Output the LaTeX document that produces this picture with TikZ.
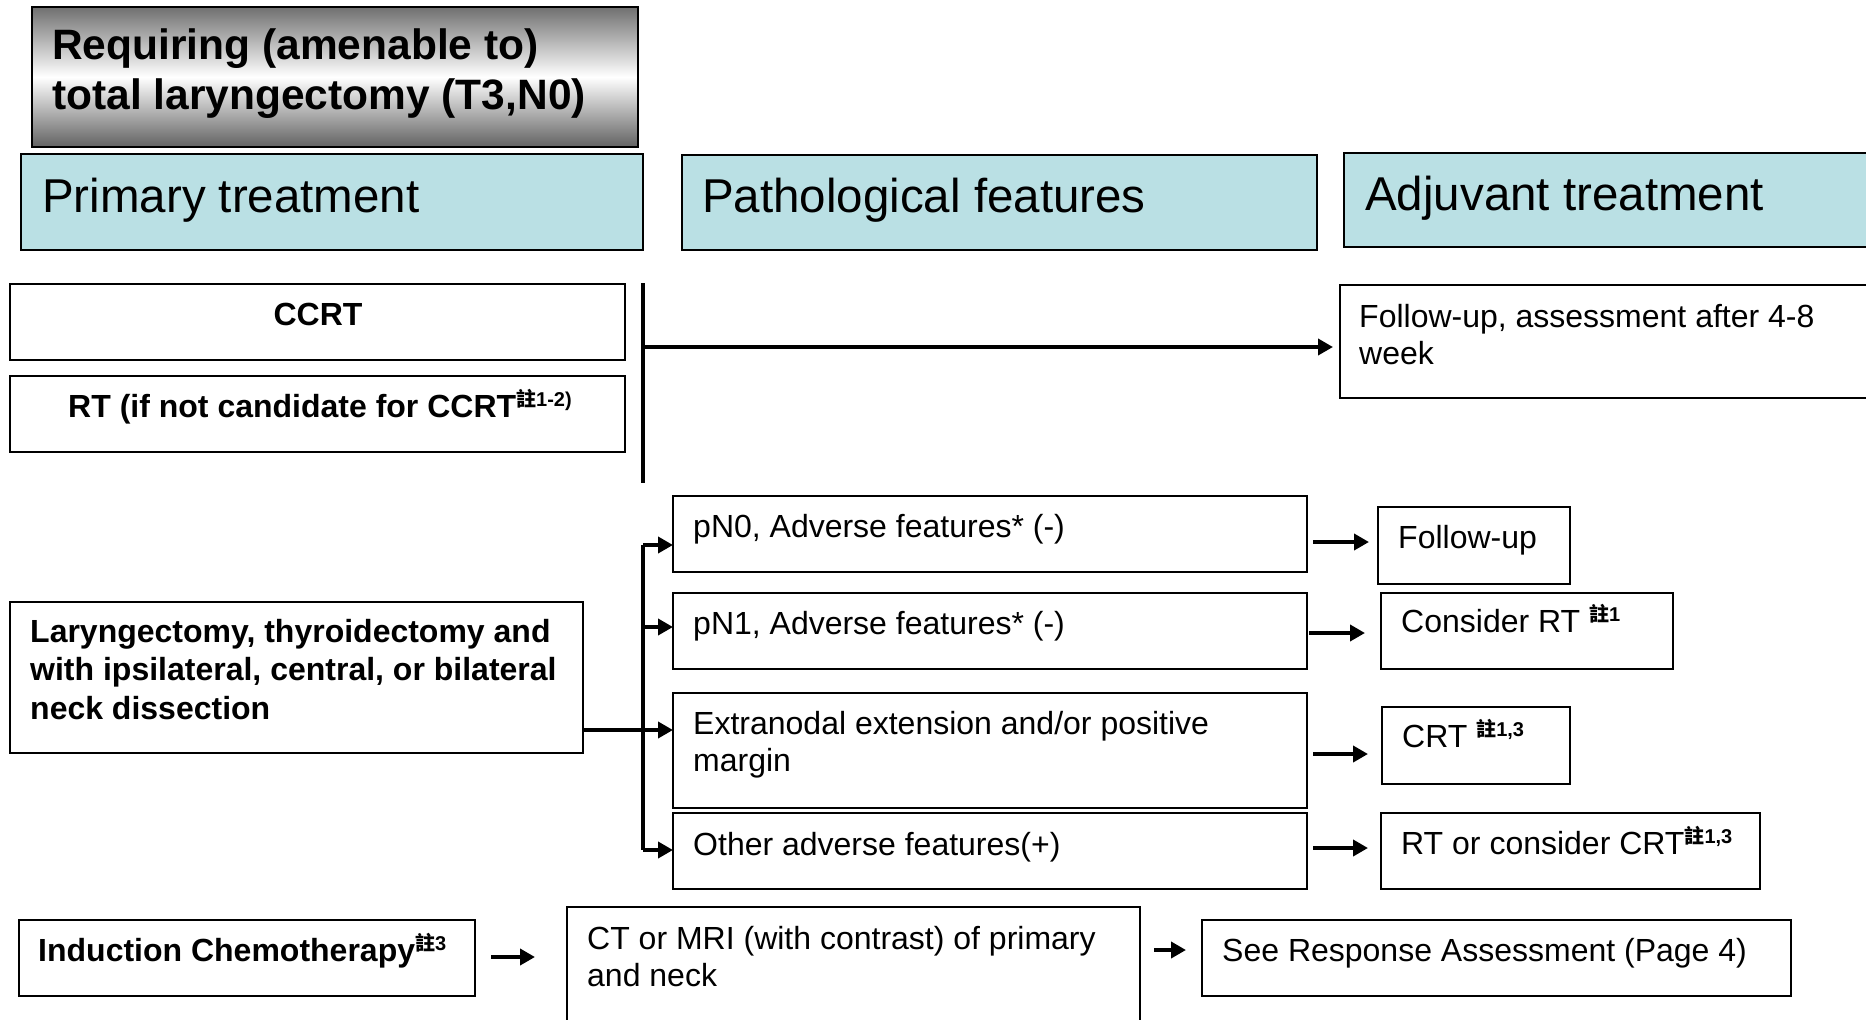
\documentclass[tikz,border=0pt]{standalone}
\usepackage{fontspec}
\setmainfont{Liberation Sans}
\newfontfamily\cjk{Noto Sans CJK TC}
\usetikzlibrary{arrows.meta}
\definecolor{hdrfill}{RGB}{186,224,228}
\definecolor{ttop}{RGB}{112,112,112}
\definecolor{tbot}{RGB}{98,98,98}
\newcommand{\zhu}[1]{\raisebox{0.34em}{\fontsize{20}{20}\selectfont\bfseries{\cjk 註}#1}}
\newcommand{\fbody}{\fontsize{32}{37.5}\selectfont}
\newcommand{\fhdr}{\fontsize{47.5}{57}\selectfont}
\newcommand{\ftitle}{\fontsize{42.5}{50}\selectfont\bfseries}
\newcommand{\lines}[2]{\parbox[t]{#1pt}{\raggedright #2}}
\newcommand{\bx}[6]{\node[#6, minimum width={(#4-#2)*1pt}, minimum height={(#5-#3)*1pt}] (#1) at (#2,#3) {};}
\tikzset{
  boxbase/.style={rectangle, inner sep=0pt, outer sep=0pt, anchor=north west, line width=2.5pt, draw=black},
  wbox/.style={boxbase, fill=white},
  hbox/.style={boxbase, fill=hdrfill},
  tbox/.style={boxbase, top color=ttop, bottom color=tbot, middle color=white},
  txt/.style={inner sep=0pt, anchor=base west, font=\fbody},
  ctxt/.style={inner sep=0pt, anchor=base, font=\fbody},
  conn/.style={line width=4pt, draw=black},
  arr/.style={conn, -{Triangle[length=15pt,width=16pt]}},
}
\begin{document}
\begin{tikzpicture}[x=1pt,y=-1pt]
\useasboundingbox (0,0) rectangle (1866,1020);
% title and headers
\bx{title}{32}{7}{638}{147}{tbox}
\node[inner sep=0pt, anchor=base west, font=\ftitle] (title-t) at (52,59) {\lines{700}{Requiring (amenable to)\\total laryngectomy (T3,N0)}};
\bx{h1}{21}{154}{643}{250}{hbox}
\bx{h2}{682}{155}{1317}{250}{hbox}
\bx{h3}{1344}{153}{1880}{247}{hbox}
\node[inner sep=0pt, anchor=base west, font=\fhdr] (h1-t) at (42,212) {Primary treatment};
\node[inner sep=0pt, anchor=base west, font=\fhdr] (h2-t) at (702,212) {Pathological features};
\node[inner sep=0pt, anchor=base west, font=\fhdr] (h3-t) at (1365,210) {Adjuvant treatment};
% CCRT / RT
\bx{ccrt}{10}{284}{625}{360}{wbox}
\bx{rt}{10}{376}{625}{452}{wbox}
\node[ctxt, font=\fbody\bfseries] (ccrt-t) at (318,325) {CCRT};
\node[ctxt, font=\fbody\bfseries] (rt-t) at (320,417) {RT (if not candidate for CCRT\zhu{1-2)}};
\bx{fua}{1340}{285}{1880}{398}{wbox}
\node[txt] (fua-t) at (1359,327) {\lines{600}{Follow-up, assessment after 4-8\\week}};
\coordinate (v1top) at (643,283);
\coordinate (v1bot) at (643,483);
\coordinate (v1mid) at (643,347);
\draw[conn] (v1top) -- (v1bot);
\draw[arr, shorten >=7pt] (v1mid) -- (fua.west |- v1mid);
% surgery branch
\bx{lary}{10}{602}{583}{753}{wbox}
\node[txt, font=\fontsize{32}{38.5}\selectfont\bfseries] (lary-t) at (30,642) {\lines{600}{Laryngectomy, thyroidectomy and\\with ipsilateral, central, or bilateral\\neck dissection}};
\bx{pn0}{673}{496}{1307}{572}{wbox}
\bx{pn1}{673}{593}{1307}{669}{wbox}
\bx{ext}{673}{693}{1307}{808}{wbox}
\bx{oth}{673}{813}{1307}{889}{wbox}
\node[txt] (pn0-t) at (693,537) {pN0, Adverse features* (-)};
\node[txt] (pn1-t) at (693,634) {pN1, Adverse features* (-)};
\node[txt] (ext-t) at (693,734) {\lines{620}{Extranodal extension and/or positive\\margin}};
\node[txt] (oth-t) at (693,855) {Other adverse features(+)};
\coordinate (b0) at (643,545);
\coordinate (b1) at (643,627);
\coordinate (b2) at (643,730);
\coordinate (b3) at (643,850);
\draw[conn] (b0) -- (b3);
\draw[conn] (lary.east |- b2) -- (b2);
\draw[arr] (b0) -- (pn0.west |- b0);
\draw[arr] (b1) -- (pn1.west |- b1);
\draw[arr] (b2) -- (ext.west |- b2);
\draw[arr] (b3) -- (oth.west |- b3);
\bx{fu}{1378}{507}{1570}{584}{wbox}
\bx{crt1}{1381}{593}{1673}{669}{wbox}
\bx{crt2}{1382}{707}{1570}{784}{wbox}
\bx{crt3}{1381}{813}{1760}{889}{wbox}
\node[txt] (fu-t) at (1398,548.5) {Follow-up};
\node[txt] (crt1-t) at (1401,632.5) {Consider RT \zhu{1}};
\node[txt] (crt2-t) at (1402,747) {CRT \zhu{1,3}};
\node[txt] (crt3-t) at (1401,854) {RT or consider CRT\zhu{1,3}};
\coordinate (r0) at (0,542);
\coordinate (r1) at (0,633);
\coordinate (r2) at (0,754);
\coordinate (r3) at (0,848);
\draw[arr, shorten <=6pt, shorten >=9pt] (pn0.east |- r0) -- (fu.west |- r0);
\draw[arr, shorten <=2pt, shorten >=16pt] (pn1.east |- r1) -- (crt1.west |- r1);
\draw[arr, shorten <=6pt, shorten >=14pt] (ext.east |- r2) -- (crt2.west |- r2);
\draw[arr, shorten <=6pt, shorten >=13pt] (oth.east |- r3) -- (crt3.west |- r3);
% induction branch
\bx{ind}{19}{920}{475}{996}{wbox}
\bx{ct}{567}{907}{1140}{1030}{wbox}
\bx{see}{1202}{920}{1791}{996}{wbox}
\node[txt, font=\fbody\bfseries] (ind-t) at (38,961) {Induction Chemotherapy\zhu{3}};
\node[txt] (ct-t) at (587,949) {\lines{600}{CT or MRI (with contrast) of primary\\and neck}};
\node[txt] (see-t) at (1222,961) {See Response Assessment (Page 4)};
\coordinate (i0) at (0,957);
\coordinate (i1) at (0,950);
\draw[arr, shorten <=16pt, shorten >=32pt] (ind.east |- i0) -- (ct.west |- i0);
\draw[arr, shorten <=14pt, shorten >=16pt] (ct.east |- i1) -- (see.west |- i1);
\end{tikzpicture}
\end{document}
